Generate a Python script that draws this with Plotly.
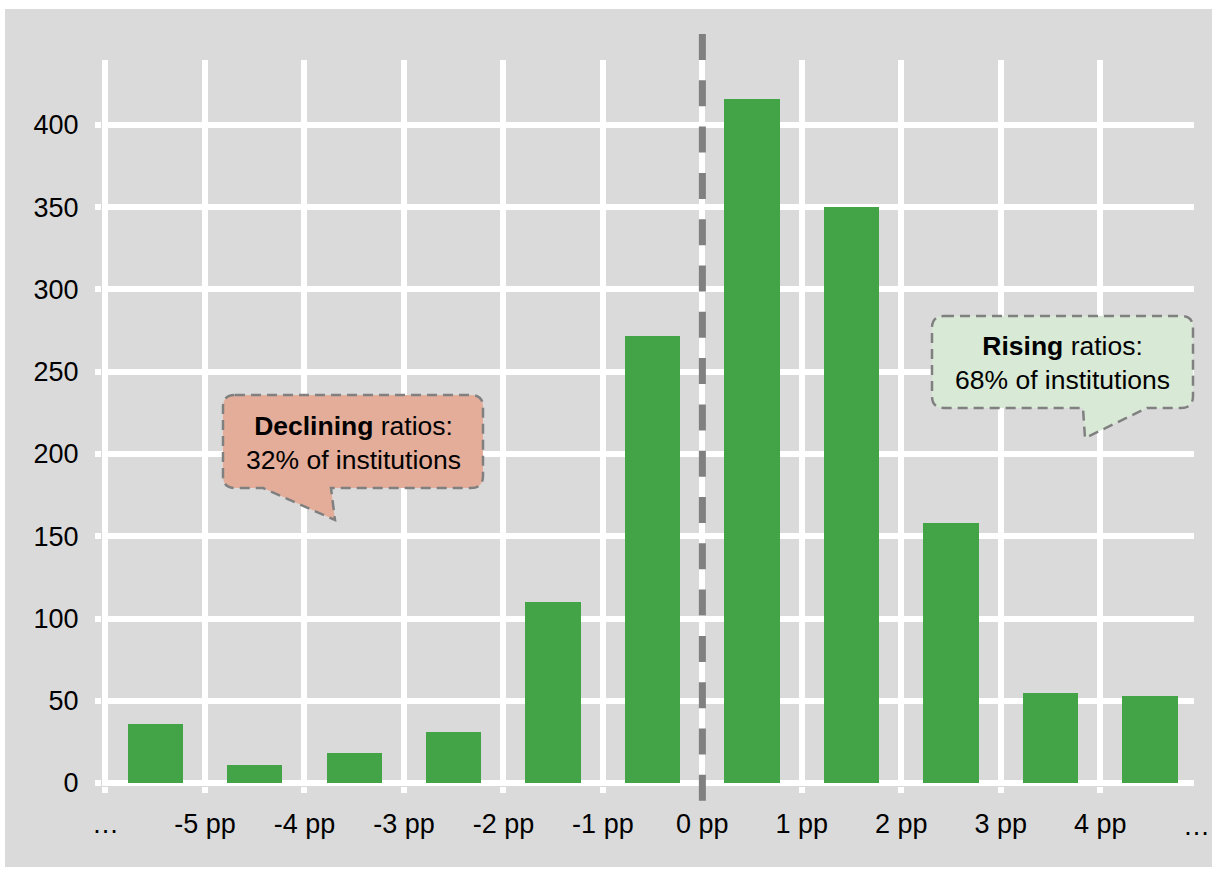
import plotly.graph_objects as go

# Histogram of ratio changes (percentage points) across institutions
bin_edges = [-6, -5, -4, -3, -2, -1, 0, 1, 2, 3, 4, 5]
counts = [36, 11, 18, 31, 110, 272, 416, 350, 158, 55, 53]
tick_vals = [-6, -5, -4, -3, -2, -1, 0, 1, 2, 3, 4]
tick_text = ["…", "-5 pp", "-4 pp", "-3 pp", "-2 pp", "-1 pp", "0 pp", "1 pp", "2 pp", "3 pp", "4 pp"]
y_ticks = [0, 50, 100, 150, 200, 250, 300, 350, 400]

declining_text = "<b>Declining</b> ratios:<br>32% of institutions"
rising_text = "<b>Rising</b> ratios:<br>68% of institutions"

centers = [(a + b) / 2 for a, b in zip(bin_edges[:-1], bin_edges[1:])]

W, H = 1212, 869
ML, MR, MT, MB = 102, 18, 60, 83
PW, PH = W - ML - MR, H - MT - MB
BG = "#dadada"
FONT = "Liberation Sans, Arial, sans-serif"
TICK_SIZE = 27
NOTE_SIZE = 26.5


def fx(px):
    return (px - ML) / PW


def fy(py):
    return (H - MB - py) / PH


def callout(L, R, T, B, r, pointer):
    # rounded box with a speech pointer on the bottom edge (right to left)
    (bx_right, tip_x, tip_y, bx_left) = pointer
    pts = [
        f"M{fx(L + r)},{fy(T)}",
        f"L{fx(R - r)},{fy(T)}",
        f"Q{fx(R)},{fy(T)} {fx(R)},{fy(T + r)}",
        f"L{fx(R)},{fy(B - r)}",
        f"Q{fx(R)},{fy(B)} {fx(R - r)},{fy(B)}",
        f"L{fx(bx_right)},{fy(B)}",
        f"L{fx(tip_x)},{fy(tip_y)}",
        f"L{fx(bx_left)},{fy(B)}",
        f"L{fx(L + r)},{fy(B)}",
        f"Q{fx(L)},{fy(B)} {fx(L)},{fy(B - r)}",
        f"L{fx(L)},{fy(T + r)}",
        f"Q{fx(L)},{fy(T)} {fx(L + r)},{fy(T)}",
        "Z",
    ]
    return " ".join(pts)


fig = go.Figure()
fig.add_trace(go.Bar(
    x=centers, y=counts, width=0.556,
    marker=dict(color="#43a447", line=dict(width=0)),
    hoverinfo="x+y",
))

shapes = [
    # grey panel behind the whole chart
    dict(type="rect", xref="paper", yref="paper",
         x0=fx(5), x1=fx(1212), y0=fy(867), y1=fy(9),
         fillcolor=BG, line=dict(width=0), layer="below"),
    # dashed divider at zero change
    dict(type="line", xref="x", yref="paper", x0=0, x1=0,
         y0=fy(34), y1=fy(802),
         line=dict(color="#808080", width=7, dash="26px,20.3px")),
    dict(type="path", xref="paper", yref="paper",
         path=callout(223, 483, 395, 488, 12, (331, 335, 520, 263)),
         fillcolor="#e4ad9a",
         line=dict(color="#808080", width=2.5, dash="10px,6px")),
    dict(type="path", xref="paper", yref="paper",
         path=callout(932, 1193, 316, 408, 12, (1147, 1085, 438, 1083)),
         fillcolor="#d8ead6",
         line=dict(color="#808080", width=2.5, dash="10px,6px")),
]

annotations = [
    dict(xref="paper", yref="paper", x=fx(353), y=fy(442.5), text=declining_text,
         showarrow=False, align="center", xanchor="center", yanchor="middle",
         font=dict(family=FONT, size=NOTE_SIZE, color="black")),
    dict(xref="paper", yref="paper", x=fx(1062), y=fy(362.5), text=rising_text,
         showarrow=False, align="center", xanchor="center", yanchor="middle",
         font=dict(family=FONT, size=NOTE_SIZE, color="black")),
    dict(xref="paper", yref="paper", x=fx(1196), y=fy(826), text="…",
         showarrow=False, xanchor="center", yanchor="middle",
         font=dict(family=FONT, size=TICK_SIZE, color="black")),
]

fig.update_layout(
    width=W, height=H,
    margin=dict(l=ML, r=MR, t=MT, b=MB, pad=0),
    paper_bgcolor="white", plot_bgcolor=BG,
    showlegend=False, bargap=0,
    font=dict(family=FONT, size=TICK_SIZE, color="black"),
    shapes=shapes, annotations=annotations,
    xaxis=dict(
        range=[-6.035, 4.942], tickmode="array",
        tickvals=tick_vals, ticktext=tick_text,
        showgrid=True, gridcolor="white", gridwidth=6,
        zeroline=False, showline=False,
        ticks="outside", ticklen=6, tickwidth=6, tickcolor="white",
        ticklabelstandoff=8,
        tickfont=dict(family=FONT, size=TICK_SIZE, color="black"),
    ),
    yaxis=dict(
        range=[-1.82, 439.5], tickmode="array", tickvals=y_ticks,
        showgrid=True, gridcolor="white", gridwidth=6,
        zeroline=False, showline=False,
        ticks="outside", ticklen=6, tickwidth=6, tickcolor="white",
        ticklabelstandoff=11,
        tickfont=dict(family=FONT, size=TICK_SIZE, color="black"),
    ),
)

fig.write_html("out.html")
